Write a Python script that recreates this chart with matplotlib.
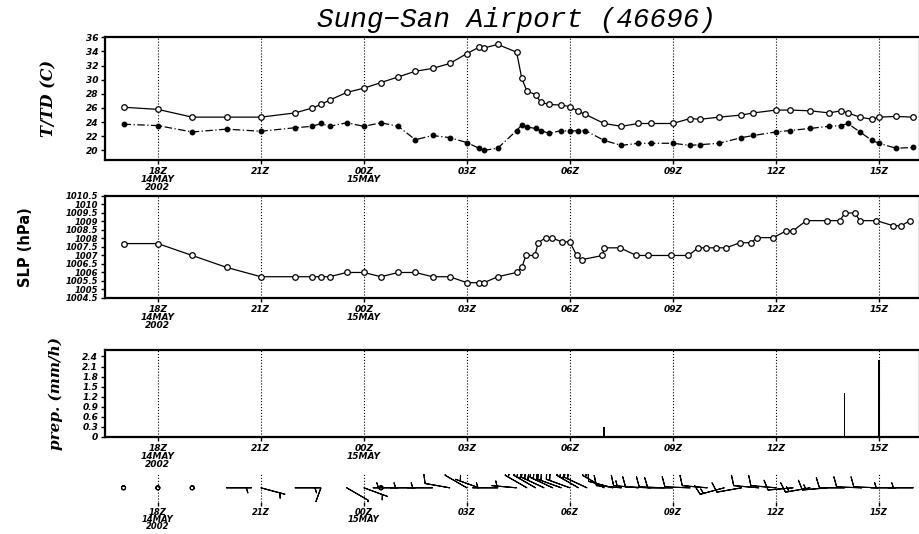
import numpy as np
import matplotlib
matplotlib.use('Agg')
import matplotlib.pyplot as plt

# time axis: hours after 00Z 14 May 2002
tick_hours = [18, 21, 24, 27, 30, 33, 36, 39]
tick_labels = ['18Z\n14MAY\n2002', '21Z', '00Z\n15MAY', '03Z', '06Z', '09Z', '12Z', '15Z']

# temperature / dew point (C)
hours = [17, 18, 19, 20, 21, 22, 22.5, 22.75, 23, 23.5, 24, 24.5, 25, 25.5, 26,
         26.5, 27, 27.35, 27.5, 27.9, 28.45, 28.6, 28.75, 29, 29.15, 29.4, 29.75,
         30, 30.25, 30.45, 31, 31.5, 32, 32.35, 33, 33.5, 33.8, 34.35, 35, 35.35,
         36, 36.4, 37, 37.55, 37.9, 38.1, 38.45, 38.8, 39, 39.5, 40]
temp = [26.1, 25.8, 24.7, 24.7, 24.7, 25.3, 26.0, 26.5, 27.1, 28.2, 28.8, 29.6,
        30.4, 31.2, 31.6, 32.3, 33.7, 34.6, 34.5, 35.0, 33.9, 30.2, 28.4, 27.9,
        26.8, 26.5, 26.4, 26.2, 25.5, 25.1, 23.8, 23.4, 23.8, 23.8, 23.8, 24.5,
        24.4, 24.7, 25.0, 25.3, 25.7, 25.7, 25.6, 25.3, 25.6, 25.3, 24.7, 24.4,
        24.7, 24.8, 24.7]
dewp = [23.7, 23.5, 22.6, 23.0, 22.7, 23.2, 23.4, 23.8, 23.4, 23.9, 23.4, 23.9,
        23.4, 21.5, 22.1, 21.8, 21.1, 20.3, 20.0, 20.3, 22.8, 23.6, 23.3, 23.1,
        22.8, 22.4, 22.8, 22.7, 22.8, 22.8, 21.4, 20.7, 21.0, 21.0, 21.0, 20.7,
        20.8, 21.0, 21.8, 22.1, 22.6, 22.8, 23.1, 23.4, 23.5, 23.8, 22.6, 21.4,
        21.0, 20.3, 20.4]

# sea level pressure (hPa)
slp_hours = [17, 18, 19, 20, 21, 22, 22.5, 22.75, 23, 23.5, 24, 24.5, 25, 25.5,
             26, 26.5, 27, 27.35, 27.5, 27.9, 28.45, 28.61, 28.72, 28.98, 29.08,
             29.3, 29.47, 29.76, 30.0, 30.2, 30.34, 30.95, 31.0, 31.46, 31.94,
             32.28, 32.96, 33.45, 33.74, 33.98, 34.27, 34.56, 34.95, 35.29, 35.44,
             35.92, 36.31, 36.5, 36.89, 37.48, 37.87, 38.01, 38.3, 38.45, 38.93,
             39.42, 39.66, 39.9]
slp = [1007.7, 1007.7, 1007.0, 1006.3, 1005.75, 1005.75, 1005.75, 1005.75,
       1005.75, 1006.0, 1006.0, 1005.75, 1006.0, 1006.0, 1005.75, 1005.75,
       1005.4, 1005.4, 1005.4, 1005.75, 1006.0, 1006.35, 1007.0, 1007.0,
       1007.75, 1008.05, 1008.05, 1007.8, 1007.8, 1007.0, 1006.75, 1007.0,
       1007.45, 1007.45, 1007.0, 1007.0, 1007.0, 1007.0, 1007.45, 1007.45,
       1007.45, 1007.45, 1007.75, 1007.75, 1008.05, 1008.05, 1008.45, 1008.45,
       1009.05, 1009.05, 1009.05, 1009.5, 1009.5, 1009.05, 1009.05, 1008.75,
       1008.75, 1009.05]

# hourly precipitation (mm/h)
prcp_hours = [31, 38, 39]
prcp = [0.3, 1.3, 2.3]

# wind (direction from, deg / speed)
wind_hours = [17, 18, 19, 20, 21, 22, 22.75, 23.5, 24, 24.5, 25, 25.5, 26, 26.5,
              27, 27.35, 27.9, 28.45, 28.75, 29, 29.25, 29.5, 29.75, 30, 30.25,
              30.5, 31, 31.25, 31.5, 32, 32.35, 32.75, 33, 33.5, 34, 34.5, 35,
              35.5, 36, 36.5, 37, 37.5, 38, 38.5, 39, 39.5, 40]
wind_dir = [0, 0, 0, 90, 105, 90, 200, 120, 110, 0, 270, 270, 270, 280,
            300, 290, 270, 275, 300, 300, 295, 295, 290, 290, 300,
            295, 300, 285, 275, 275, 272, 272, 270, 272, 275, 255, 260,
            275, 275, 265, 260, 265, 270, 272, 272, 270, 270]
wind_spd = [0, 0, 0, 5, 5, 5, 5, 10, 5, 0, 5, 5, 5, 10,
            10, 5, 5, 5, 15, 25, 30, 30, 20, 20, 25,
            15, 15, 10, 10, 15, 10, 10, 10, 10, 10, 15, 10,
            10, 10, 10, 15, 15, 10, 10, 10, 5, 5]

tick_font = dict(fontsize=6.5, fontweight='bold', fontstyle='italic')
label_font = dict(fontweight='bold', fontstyle='italic', family='DejaVu Serif')

fig = plt.figure(figsize=(9.2, 5.34), dpi=100)
x0 = 105 / 920
w = 815 / 920
ax1 = fig.add_axes([x0, 0.700, w, 0.230])
ax2 = fig.add_axes([x0, 0.442, w, 0.191])
ax3 = fig.add_axes([x0, 0.182, w, 0.163])
ax4 = fig.add_axes([x0, 0.060, w, 0.053])

for ax in (ax1, ax2, ax3, ax4):
    ax.set_xlim(16.46, 40.2)
    ax.set_xticks(tick_hours)
    ax.set_xticklabels(tick_labels, linespacing=0.85, **tick_font)
    ax.grid(axis='x', color='k', linestyle=':', linewidth=0.8)
    ax.tick_params(axis='both', direction='out', length=3, width=1, pad=2)
    for sp in ax.spines.values():
        sp.set_linewidth(1.6)

# T / Td
ax1.plot(hours, temp, color='k', lw=0.9, marker='o', ms=4, mfc='white', mec='k', mew=0.9)
ax1.plot(hours, dewp, color='k', lw=0.9, linestyle=(0, (6, 2, 1, 2)), marker='o', ms=3.2, mfc='k', mec='k')
ax1.set_ylim(18.6, 36)
ax1.set_yticks(np.arange(20, 37, 2))
ax1.set_yticklabels([str(v) for v in range(20, 37, 2)], **tick_font)
ax1.set_ylabel('T/TD (C)', fontsize=11.5, **label_font)
ax1.yaxis.set_label_coords(-0.058, 0.5)

# SLP
ax2.plot(slp_hours, slp, color='k', lw=0.9, marker='o', ms=4, mfc='white', mec='k', mew=0.9)
ax2.set_ylim(1004.5, 1010.5)
slp_ticks = np.arange(1004.5, 1010.51, 0.5)
ax2.set_yticks(slp_ticks)
ax2.set_yticklabels([('%g' % v) for v in slp_ticks], fontsize=6, fontweight='bold', fontstyle='italic')
ax2.set_ylabel('SLP (hPa)', fontsize=10.5, fontweight='bold')
ax2.yaxis.set_label_coords(-0.088, 0.5)

# precipitation
ax3.bar(prcp_hours, prcp, width=0.05, color='k')
ax3.set_ylim(0, 2.6)
prcp_ticks = np.arange(0, 2.41, 0.3)
ax3.set_yticks(prcp_ticks)
ax3.set_yticklabels([('%g' % round(v, 1)) for v in prcp_ticks], **tick_font)
ax3.set_ylabel('prep. (mm/h)', fontsize=11, **label_font)
ax3.yaxis.set_label_coords(-0.052, 0.5)

# wind barbs
wd = np.deg2rad(wind_dir)
u = -np.array(wind_spd) * np.sin(wd)
v = -np.array(wind_spd) * np.cos(wd)
ax4.barbs(wind_hours, np.zeros(len(wind_hours)), u, v, length=6, linewidth=0.8,
          color='k', sizes=dict(emptybarb=0.08, spacing=0.14, height=0.4))
ax4.set_ylim(-1, 1)
ax4.set_yticks([])
ax4.tick_params(axis='x', pad=1)
for lab in ax4.get_xticklabels():
    lab.set_linespacing(0.75)
    lab.set_fontsize(6)
for sp in ax4.spines.values():
    sp.set_visible(False)

fig.text(0.561, 0.962, 'Sung\u2212San Airport (46696)', ha='center', va='center',
         fontsize=20, fontstyle='italic', family='Liberation Mono')

fig.savefig('out.png', dpi=100)
